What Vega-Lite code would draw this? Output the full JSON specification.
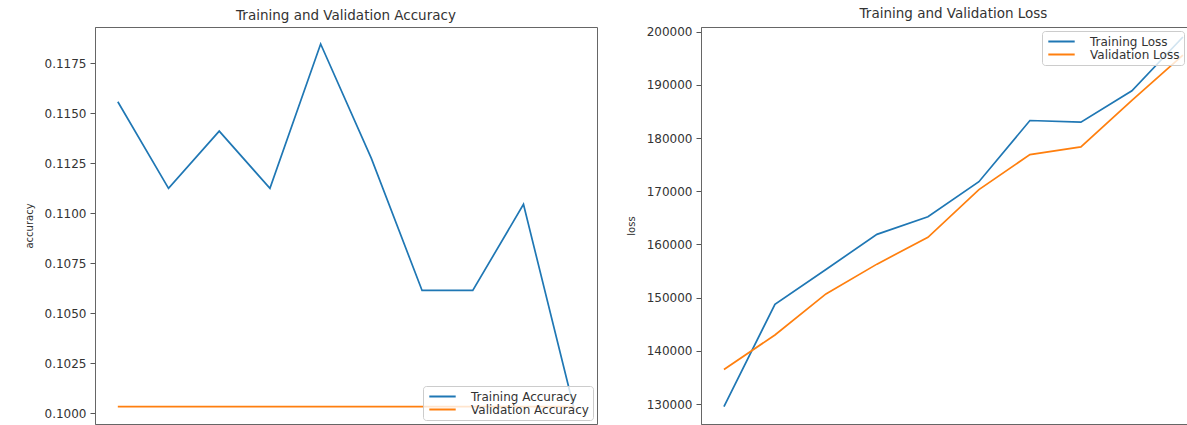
{
  "$schema": "https://vega.github.io/schema/vega-lite/v6.json",
  "background": "white",
  "padding": {"left": 23, "top": 6, "right": 0, "bottom": 1},
  "datasets": {
    "acc": [
      {"epoch": 0, "series": "Training Accuracy", "value": 0.11558},
      {"epoch": 1, "series": "Training Accuracy", "value": 0.11125},
      {"epoch": 2, "series": "Training Accuracy", "value": 0.11411},
      {"epoch": 3, "series": "Training Accuracy", "value": 0.11125},
      {"epoch": 4, "series": "Training Accuracy", "value": 0.11847},
      {"epoch": 5, "series": "Training Accuracy", "value": 0.11275},
      {"epoch": 6, "series": "Training Accuracy", "value": 0.10614},
      {"epoch": 7, "series": "Training Accuracy", "value": 0.10614},
      {"epoch": 8, "series": "Training Accuracy", "value": 0.11045},
      {"epoch": 9, "series": "Training Accuracy", "value": 0.10020},
      {"epoch": 0, "series": "Validation Accuracy", "value": 0.10033},
      {"epoch": 1, "series": "Validation Accuracy", "value": 0.10033},
      {"epoch": 2, "series": "Validation Accuracy", "value": 0.10033},
      {"epoch": 3, "series": "Validation Accuracy", "value": 0.10033},
      {"epoch": 4, "series": "Validation Accuracy", "value": 0.10033},
      {"epoch": 5, "series": "Validation Accuracy", "value": 0.10033},
      {"epoch": 6, "series": "Validation Accuracy", "value": 0.10033},
      {"epoch": 7, "series": "Validation Accuracy", "value": 0.10033},
      {"epoch": 8, "series": "Validation Accuracy", "value": 0.10033},
      {"epoch": 9, "series": "Validation Accuracy", "value": 0.10033}
    ],
    "loss": [
      {"epoch": 0, "series": "Training Loss", "value": 129500},
      {"epoch": 1, "series": "Training Loss", "value": 148750},
      {"epoch": 2, "series": "Training Loss", "value": 155300},
      {"epoch": 3, "series": "Training Loss", "value": 161900},
      {"epoch": 4, "series": "Training Loss", "value": 165200},
      {"epoch": 5, "series": "Training Loss", "value": 171800},
      {"epoch": 6, "series": "Training Loss", "value": 183300},
      {"epoch": 7, "series": "Training Loss", "value": 183000},
      {"epoch": 8, "series": "Training Loss", "value": 188900},
      {"epoch": 9, "series": "Training Loss", "value": 199000},
      {"epoch": 0, "series": "Validation Loss", "value": 136500},
      {"epoch": 1, "series": "Validation Loss", "value": 142980},
      {"epoch": 2, "series": "Validation Loss", "value": 150700},
      {"epoch": 3, "series": "Validation Loss", "value": 156300},
      {"epoch": 4, "series": "Validation Loss", "value": 161350},
      {"epoch": 5, "series": "Validation Loss", "value": 170300},
      {"epoch": 6, "series": "Validation Loss", "value": 176900},
      {"epoch": 7, "series": "Validation Loss", "value": 178350},
      {"epoch": 8, "series": "Validation Loss", "value": 187100},
      {"epoch": 9, "series": "Validation Loss", "value": 195600}
    ]
  },
  "config": {
    "font": "DejaVu Sans",
    "view": {"stroke": "#666", "strokeWidth": 1},
    "axis": {
      "grid": false,
      "labelFont": "DejaVu Sans",
      "labelFontSize": 12,
      "labelColor": "#333",
      "tickColor": "#555",
      "domainColor": "#666",
      "tickSize": 5,
      "labelPadding": 4,
      "titleFont": "DejaVu Sans",
      "titleFontSize": 10,
      "titleFontWeight": "normal",
      "titleColor": "#333",
      "titlePadding": 10
    },
    "title": {"font": "DejaVu Sans", "fontSize": 13.5, "fontWeight": "normal", "color": "#333", "offset": 5},
    "legend": {
      "symbolType": "M-2.4,0H2.4",
      "symbolSize": 121,
      "symbolStrokeWidth": 2,
      "symbolOffset": 9,
      "labelFont": "DejaVu Sans",
      "labelFontSize": 12,
      "labelColor": "#333",
      "labelOffset": 22,
      "fillColor": "rgba(255,255,255,0.8)",
      "strokeColor": "#ccc",
      "cornerRadius": 3,
      "padding": 4,
      "rowPadding": 0,
      "offset": 4
    }
  },
  "spacing": 27,
  "resolve": {"scale": {"color": "independent"}},
  "hconcat": [
    {
      "width": 502,
      "height": 397,
      "title": "Training and Validation Accuracy",
      "data": {"name": "acc"},
      "mark": {"type": "line", "strokeWidth": 1.7, "clip": true},
      "encoding": {
        "x": {"field": "epoch", "type": "quantitative", "scale": {"domain": [-0.45, 9.45], "nice": false, "zero": false}, "axis": null},
        "y": {
          "field": "value", "type": "quantitative",
          "scale": {"domain": [0.09946, 0.11932], "nice": false, "zero": false},
          "axis": {"title": "accuracy", "values": [0.1, 0.1025, 0.105, 0.1075, 0.11, 0.1125, 0.115, 0.1175], "format": ".4f"}
        },
        "color": {
          "field": "series", "type": "nominal",
          "scale": {"domain": ["Training Accuracy", "Validation Accuracy"], "range": ["#1f77b4", "#ff7f0e"]},
          "legend": {"orient": "bottom-right", "title": null}
        }
      }
    },
    {
      "width": 487,
      "height": 397,
      "title": {"text": "Training and Validation Loss", "dx": 9},
      "data": {"name": "loss"},
      "mark": {"type": "line", "strokeWidth": 1.7, "clip": true},
      "encoding": {
        "x": {"field": "epoch", "type": "quantitative", "scale": {"domain": [-0.45, 9.1], "nice": false, "zero": false}, "axis": null},
        "y": {
          "field": "value", "type": "quantitative",
          "scale": {"domain": [126240, 200884], "nice": false, "zero": false},
          "axis": {"title": "loss", "values": [130000, 140000, 150000, 160000, 170000, 180000, 190000, 200000], "format": "d"}
        },
        "color": {
          "field": "series", "type": "nominal",
          "scale": {"domain": ["Training Loss", "Validation Loss"], "range": ["#1f77b4", "#ff7f0e"]},
          "legend": {"orient": "top-right", "title": null}
        }
      }
    }
  ]
}
